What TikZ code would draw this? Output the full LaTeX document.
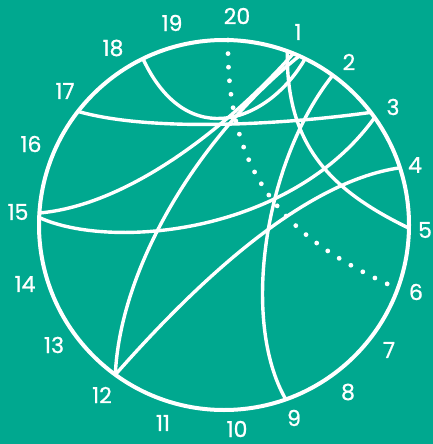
\documentclass[tikz,border=0pt]{standalone}
\usepackage{fontspec}
\setmainfont{Poppins}
\newfontfamily\numfont[FakeBold=0.9]{Poppins}
\definecolor{bg}{RGB}{0,168,143}
\begin{document}
\begin{tikzpicture}[x=1pt,y=-1pt,
  rim/.style={draw=white, line width=4pt},
  chord/.style={draw=white, line width=3.4pt},
  dotline/.style={draw=white, line width=4.8pt, line cap=round, dash pattern=on 0pt off 13.6pt},
  num/.style={text=white, font=\numfont\fontsize{22}{26}\selectfont, inner sep=0pt}]
\fill[bg] (0,0) rectangle (433,444);
\useasboundingbox (0,0) rectangle (433,444);
\draw[rim] (224,225) circle[radius=185];
% end points on the rim
\coordinate (p20) at (228,40);
\coordinate (p1a) at (287.3,51.2);
\coordinate (p1b) at (293.3,53.5);
\coordinate (p1c) at (299.2,56);
\coordinate (p1d) at (305.1,58.7);
\coordinate (p2) at (332.7,75.3);
\coordinate (p3a) at (370.8,112.4);
\coordinate (p3b) at (374.6,117.6);
\coordinate (p4) at (399.9,167.8);
\coordinate (p5) at (409,228.2);
\coordinate (p6) at (394,287);
\coordinate (p9) at (285.8,399.4);
\coordinate (p12) at (115.3,374.7);
\coordinate (p15a) at (39.4,213);
\coordinate (p15b) at (39.2,217.5);
\coordinate (p17) at (78,111.4);
\coordinate (p18) at (142.9,58.7);
% chords
\draw[chord] (p18) .. controls (188,155) and (270,120) .. (p1d);
\draw[chord] (p17) .. controls (150,132) and (280,125) .. (p3a);
\draw[chord] (p15a) .. controls (130,205) and (230,125) .. (p1b);
\draw[chord] (p15b) .. controls (110,250) and (290,235) .. (p3b);
\draw[chord] (p12) .. controls (120,270) and (195,140) .. (p1c);
\draw[chord] (p12) .. controls (190,290) and (300,182) .. (p4);
\draw[chord] (p9) .. controls (240,320) and (265,160) .. (p2);
\draw[chord] (p1a) .. controls (286,145) and (330,190) .. (p5);
\draw[dotline] (p20) .. controls (226,180) and (290,240) .. (p6);
% labels
\node[num] (l20) at (237,16) {20};
\node[num] (l1) at (298,32) {1};
\node[num] (l2) at (349,62) {2};
\node[num] (l3) at (393,107) {3};
\node[num] (l4) at (415,165) {4};
\node[num] (l5) at (425,230) {5};
\node[num] (l6) at (416,292) {6};
\node[num] (l7) at (389,350) {7};
\node[num] (l8) at (348,392) {8};
\node[num] (l9) at (294,418) {9};
\node[num] (l10) at (237,429) {10};
\node[num] (l11) at (163,423) {11};
\node[num] (l12) at (102,395) {12};
\node[num] (l13) at (54,345) {13};
\node[num] (l14) at (25,284) {14};
\node[num] (l15) at (18,212) {15};
\node[num] (l16) at (31,144) {16};
\node[num] (l17) at (65,91) {17};
\node[num] (l18) at (113,48) {18};
\node[num] (l19) at (172,23) {19};
\end{tikzpicture}
\end{document}
